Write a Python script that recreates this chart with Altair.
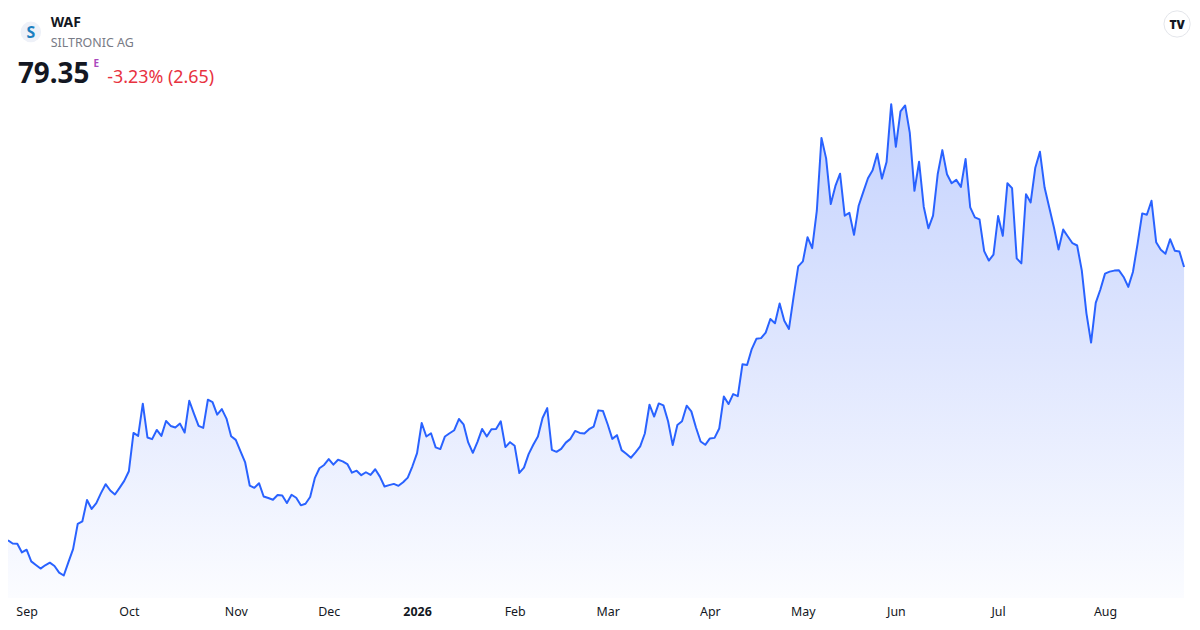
import json
import altair as alt
import pandas as pd

# ---------------- data ----------------
START = "2025-08-26"
END = "2026-08-26"
HOLIDAYS = ["2025-12-24", "2025-12-25", "2025-12-26", "2025-12-31",
            "2026-01-01", "2026-04-03", "2026-04-06", "2026-05-01"]

PRICES = [
    32.87, 32.31, 32.26, 30.79, 31.25, 29.27, 28.65, 28.04, 28.60, 29.05,
    28.48, 27.36, 26.86, 29.15, 31.35, 35.64, 36.08, 39.70, 38.18, 39.19,
    40.88, 42.40, 41.32, 40.65, 41.78, 42.96, 44.60, 51.12, 50.62, 56.09,
    50.35, 50.06, 51.63, 50.62, 53.15, 52.31, 52.04, 52.71, 51.19, 56.60,
    54.40, 52.31, 51.97, 56.77, 56.36, 54.23, 55.18, 53.56, 50.57, 49.94,
    48.03, 46.17, 42.17, 41.78, 42.57, 40.31, 40.04, 39.75, 40.55, 40.48,
    39.19, 40.60, 40.09, 38.80, 39.07, 40.21, 43.42, 45.11, 45.67, 46.68,
    45.72, 46.56, 46.29, 45.83, 44.36, 44.70, 43.93, 44.43, 43.98, 44.94,
    43.69, 42.00, 42.24, 42.45, 42.12, 42.74, 43.52, 45.45, 47.69, 52.81,
    50.52, 51.07, 48.66, 48.37, 50.52, 51.07, 51.58, 53.49, 52.59, 49.50,
    47.74, 49.60, 51.80, 50.52, 51.75, 51.80, 53.10, 48.71, 49.55, 48.93,
    44.31, 45.21, 47.52, 49.10, 50.52, 53.66, 55.35, 48.25, 47.91, 48.42,
    49.47, 50.11, 51.46, 51.12, 51.02, 51.75, 52.21, 54.96, 54.84, 52.59,
    50.11, 50.74, 48.20, 47.58, 46.90, 47.81, 48.83, 51.02, 55.92, 53.90,
    56.14, 55.81, 53.10, 49.05, 52.48, 53.10, 55.76, 54.79, 52.04, 49.67,
    49.10, 50.18, 50.28, 51.87, 57.33, 56.03, 57.72, 57.38, 62.79, 62.68,
    65.39, 67.13, 67.25, 68.19, 70.51, 69.78, 73.16, 70.22, 68.82, 74.28,
    79.47, 80.31, 84.42, 82.56, 88.93, 101.32, 97.84, 90.06, 93.15, 95.23,
    88.08, 88.59, 84.82, 89.77, 92.14, 94.46, 95.81, 98.61, 94.39, 97.21,
    107.06, 99.80, 105.83, 106.84, 102.16, 92.31, 97.26, 89.61, 85.94, 88.08,
    95.13, 99.24, 95.13, 93.61, 94.17, 92.99, 97.72, 89.49, 87.80, 87.46,
    82.05, 80.45, 81.46, 88.03, 84.65, 93.61, 92.77, 80.82, 79.97, 91.75,
    90.33, 96.25, 98.95, 92.87, 89.49, 86.11, 82.34, 85.72, 84.54, 83.40,
    83.01, 78.79, 71.47, 66.50, 73.26, 75.53, 78.23, 78.57, 78.74, 78.79,
    77.66, 75.97, 78.50, 83.30, 88.47, 88.25, 90.62, 83.57, 82.29, 81.61,
    84.08, 82.12, 82.00, 79.35,
]

TICK_LABELS = ["Sep", "Oct", "Nov", "Dec", "2026", "Feb", "Mar", "Apr",
               "May", "Jun", "Jul", "Aug"]

SYMBOL = "WAF"
COMPANY = "SILTRONIC AG"
LAST = "79.35"
CHANGE = "-3.23% (2.65)"

# price scale bounds of the pane
Y_MIN = 23.02
Y_MAX = 123.07

# ---------------- build table ----------------
dates = pd.bdate_range(START, END, freq="C", holidays=HOLIDAYS)
n = min(len(dates), len(PRICES))
df = pd.DataFrame({
    "i": list(range(n)),
    "date": dates[:n].strftime("%Y-%m-%d"),
    "price": PRICES[:n],
})
months = dates[:n].to_period("M")
first_idx = [k for k in range(1, n) if months[k] != months[k - 1]]
tick_vals = first_idx[:len(TICK_LABELS)]
bold_val = tick_vals[TICK_LABELS.index("2026")] if "2026" in TICK_LABELS else -1

label_expr = f"{json.dumps(TICK_LABELS[:len(tick_vals)])}[indexof({json.dumps(tick_vals)}, datum.value)]"

FONT = "Noto Sans"
W, H = 1184, 592

x_enc = alt.X(
    "i:Q",
    scale=alt.Scale(domain=[0, n - 1], nice=False, zero=False),
    axis=alt.Axis(
        values=tick_vals, labelExpr=label_expr, title=None, domain=False,
        ticks=False, grid=False, labelFont=FONT, labelFontSize=12.5,
        labelColor="#131722", labelPadding=8, labelOverlap=False,
        labelFlush=False, labelBound=False,
        labelFontWeight={"condition": {"test": f"datum.value == {bold_val}", "value": "bold"},
                         "value": "normal"},
    ),
)
y_enc = alt.Y("price:Q", scale=alt.Scale(domain=[Y_MIN, Y_MAX], nice=False, zero=False), axis=None)

area = alt.Chart(df).mark_area(
    color=alt.Gradient(
        gradient="linear", x1=0, x2=0, y1=0, y2=1,
        stops=[alt.GradientStop(color="#c5d3fe", offset=0),
               alt.GradientStop(color="#dfe6fe", offset=0.5),
               alt.GradientStop(color="#fbfcff", offset=1)],
    ),
).encode(x=x_enc, y=y_enc, y2=alt.datum(Y_MIN))

line = alt.Chart(df).mark_line(color="#2962ff", strokeWidth=2, strokeJoin="round").encode(
    x=x_enc, y=y_enc
)


def text_layer(text, x, y, size, color, weight="normal", align="left", baseline="alphabetic"):
    return alt.Chart(pd.DataFrame({"t": [text]})).mark_text(
        font=FONT, fontSize=size, color=color, fontWeight=weight,
        align=align, baseline=baseline,
    ).encode(x=alt.value(x), y=alt.value(y), text="t:N")


def dot_layer(x, y, size, fill, stroke=None):
    kw = dict(size=size, color=fill, opacity=1)
    if stroke:
        kw.update(stroke=stroke, strokeWidth=1, strokeOpacity=1)
    return alt.Chart(pd.DataFrame({"t": [0]})).mark_circle(**kw).encode(
        x=alt.value(x), y=alt.value(y)
    )


headers = [
    dot_layer(23, 22, 430, "#eef1f8"),
    text_layer("S", 23, 23, 16, "#1c7fc0", "bold", "center", "middle"),
    text_layer(SYMBOL, 43, 17, 14, "#131722", "bold"),
    text_layer(COMPANY, 43, 37, 12.5, "#787b86"),
    text_layer(LAST, 10, 73, 28, "#131722", "bold"),
    text_layer("E", 86, 57, 10, "#ab47bc", "bold"),
    text_layer(CHANGE, 100, 73, 18, "#e8323f"),
    dot_layer(1177, 14, 700, "#ffffff", "#e3e5ea"),
    text_layer("TV", 1177, 15, 12, "#131722", 900, "center", "middle"),
]

chart = alt.layer(area, line, *headers).properties(
    width=W,
    height=H,
    autosize=alt.AutoSizeParams(type="none"),
    padding={"left": 0, "top": 0, "right": 8, "bottom": 22},
    background="white",
).configure_view(stroke=None)

chart.save("out.html", embed_options={"renderer": "svg", "actions": False})
